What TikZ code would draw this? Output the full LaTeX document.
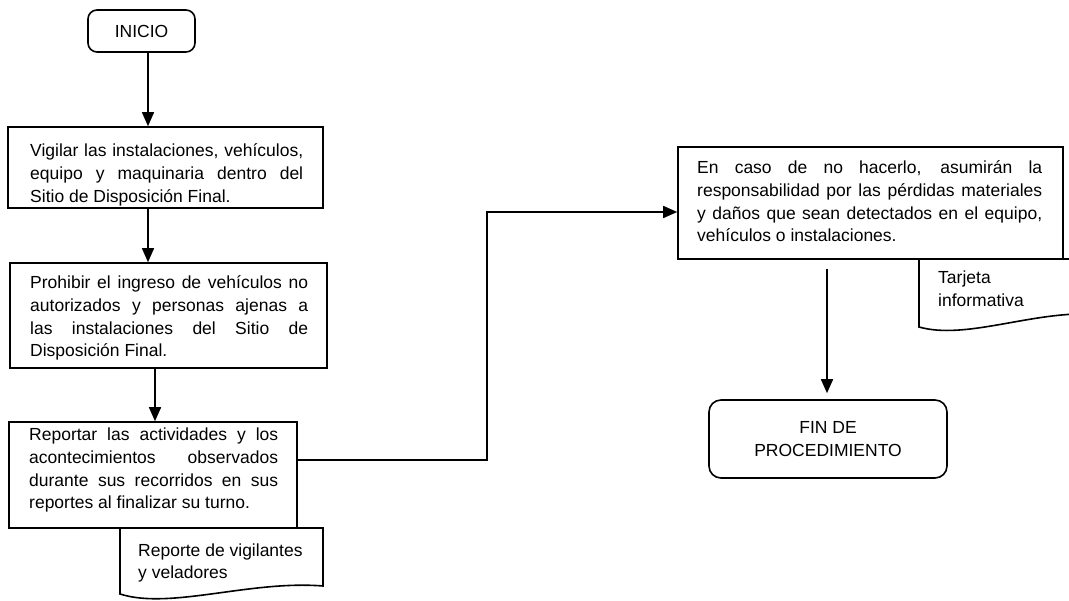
\documentclass[tikz,border=0pt]{standalone}
\usepackage{fontspec}
\setmainfont{Liberation Sans}
\usetikzlibrary{arrows.meta}

% one justified line of a process box
\newcommand{\jl}[1]{\makebox[\linewidth][s]{#1}\\}

\begin{document}
\begin{tikzpicture}[x=1pt,y=-1pt,
  every node/.style={inner sep=0pt, font=\fontsize{17.5pt}{22.6pt}\selectfont},
  term/.style={draw, line width=1.6pt, rounded corners=9pt},
  proc/.style={draw, line width=1.6pt},
  txt/.style={anchor=base west},
  arr/.style={line width=1.6pt, -{Triangle[length=14pt,width=12pt]}},
  docline/.style={line width=1.6pt, line join=miter}]

\useasboundingbox (0,0) rectangle (1069,601);
\clip (0,0) rectangle (1069,601);

% terminals
\node[term, minimum width=107pt, minimum height=42pt] (inicio) at (141.5,31) {INICIO};
\node[term, rounded corners=12pt, minimum width=238pt, minimum height=78pt, align=center]
  (fin) at (828,439) {FIN DE\\PROCEDIMIENTO};

% document shapes
\draw[docline] (120,528) -- (323,528) -- (323,586)
  .. controls (250,580) and (170,610) .. (120,594) -- cycle;
\draw[docline] (919,259) -- (1090,259) -- (1090,314)
  .. controls (1030,312) and (965,340) .. (919,327) -- cycle;

% process boxes
\node[proc, minimum width=315pt, minimum height=81pt]  (b1) at (165.5,167.5) {};
\node[proc, minimum width=317pt, minimum height=105pt] (b2) at (168.5,315.5) {};
\node[proc, minimum width=288pt, minimum height=106pt] (b3) at (153,475) {};
\node[proc, minimum width=385pt, minimum height=112pt] (b4) at (870.5,203) {};

% box texts
\node[txt] (t1) at (30,157) {\parbox[t]{273pt}{%
  \jl{Vigilar las instalaciones, vehículos,}%
  \jl{equipo y maquinaria dentro del}%
  Sitio de Disposición Final.}};
\node[txt] (t2) at (30,289) {\parbox[t]{278pt}{%
  \jl{Prohibir el ingreso de vehículos no}%
  \jl{autorizados y personas ajenas a}%
  \jl{las instalaciones del Sitio de}%
  Disposición Final.}};
\node[txt] (t3) at (29,441) {\parbox[t]{249pt}{%
  \jl{Reportar las actividades y los}%
  \jl{acontecimientos observados}%
  \jl{durante sus recorridos en sus}%
  reportes al finalizar su turno.}};
\node[txt] (t4) at (697,174) {\parbox[t]{345pt}{%
  \jl{En caso de no hacerlo, asumirán la}%
  \jl{responsabilidad por las pérdidas materiales}%
  \jl{y daños que sean detectados en el equipo,}%
  vehículos o instalaciones.}};

% document texts
\node[txt] (d1) at (138,556) {\parbox[t]{180pt}{Reporte de vigilantes\\y veladores}};
\node[txt] (d2) at (938,284) {\parbox[t]{120pt}{Tarjeta\\informativa}};

% connectors
\coordinate (bend) at (487,336);
\draw[arr] ([xshift=6.5pt]inicio.south) -- ([xshift=6.5pt]inicio.south |- b1.north);
\draw[arr] ([xshift=-17.5pt]b1.south) -- ([xshift=-17.5pt]b1.south |- b2.north);
\draw[arr] ([xshift=-13.5pt]b2.south) -- ([xshift=-13.5pt]b2.south |- b3.north);
\draw[arr] ([yshift=15pt]b3.east) -| (bend) |- ([yshift=-9pt]b4.west);
\draw[arr, shorten <=9pt, shorten >=6pt] ([xshift=-1pt]fin.north |- b4.south) -- ([xshift=-1pt]fin.north);
\end{tikzpicture}
\end{document}
